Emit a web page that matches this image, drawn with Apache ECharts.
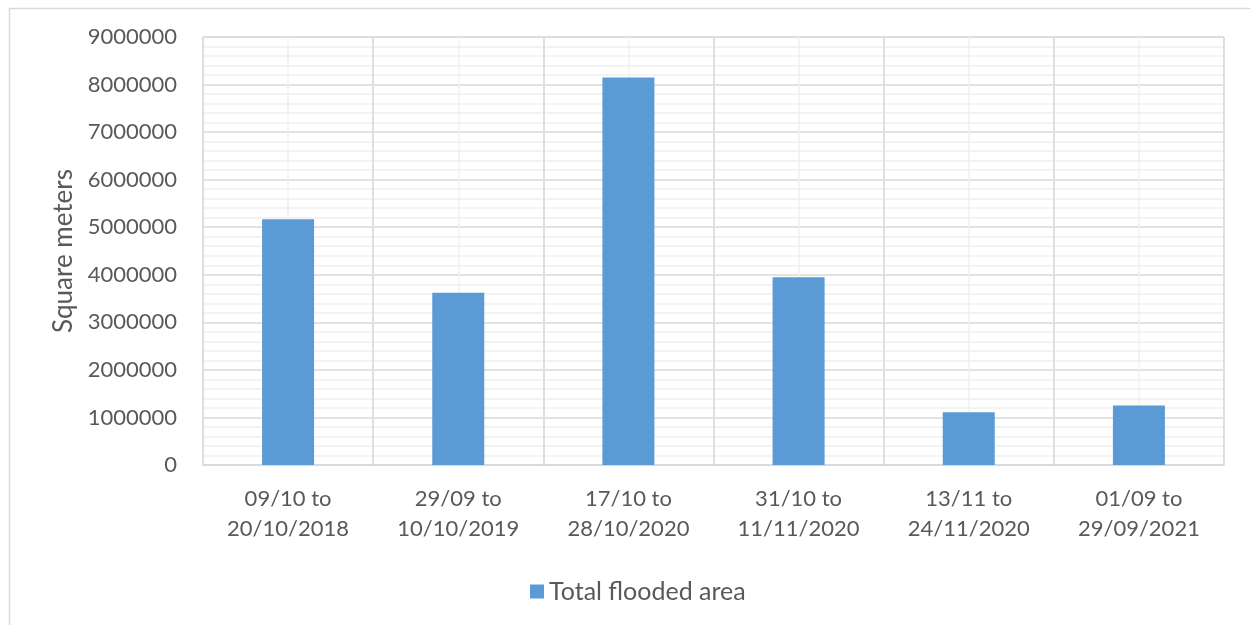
<!DOCTYPE html>
<html>
<head>
<meta charset="utf-8">
<script src="https://cdn.jsdelivr.net/npm/echarts@6/dist/echarts.min.js"></script>
<style>
  html, body { margin: 0; padding: 0; background: #fff; }
  #chart { width: 1250px; height: 625px; }
</style>
</head>
<body>
<div id="chart"></div>
<script>
// periods (x categories) and total flooded area in m2
const periods = [
  "09/10 to\n20/10/2018",
  "29/09 to\n10/10/2019",
  "17/10 to\n28/10/2020",
  "31/10 to\n11/11/2020",
  "13/11 to\n24/11/2020",
  "01/09 to\n29/09/2021",
];
const floodedArea = [5170000, 3620000, 8150000, 3950000, 1110000, 1250000];
const yTicks = { min: 0, max: 9000000, step: 1000000 };

const textColor = "#595959";
const majorGrid = "#d9d9d9";
const minorGrid = "#f0f0f0";
const font = "Lato, 'Open Sans', sans-serif";

const chart = echarts.init(document.getElementById("chart"), null, { renderer: "canvas" });
chart.setOption({
  animation: false,
  textStyle: { fontFamily: font, color: textColor },
  graphic: [
    {
      type: "rect",
      left: 7, top: 6,
      shape: { width: 1270, height: 650 },
      style: { fill: "none", stroke: "#d9d9d9", lineWidth: 1.5 },
      silent: true,
    },
  ],
  grid: {
    left: 203, right: 26, top: 37, bottom: 160,
    show: true, borderColor: majorGrid, borderWidth: 1,
  },
  legend: {
    top: 574,
    left: 525,
    itemWidth: 14, itemHeight: 14, itemGap: 6,
    icon: "rect",
    textStyle: { fontSize: 25, color: textColor, fontFamily: font },
  },
  xAxis: [
    {
      type: "category",
      data: periods,
      z: 1,
      axisLine: { lineStyle: { color: majorGrid, width: 1.5 } },
      axisTick: { show: false },
      axisLabel: { color: textColor, fontSize: 22, lineHeight: 30, margin: 19, interval: 0 },
      splitLine: { show: true, lineStyle: { color: majorGrid, width: 1.5 } },
    },
    {
      // only used to draw the light vertical lines through category centres
      type: "value",
      min: 0, max: 12, interval: 1,
      position: "top",
      z: 0,
      axisLine: { show: false },
      axisTick: { show: false },
      axisLabel: { show: false },
      splitLine: { show: true, lineStyle: { color: minorGrid, width: 1.5 } },
    },
  ],
  yAxis: {
    type: "value",
    min: yTicks.min, max: yTicks.max, interval: yTicks.step,
    name: "Square meters",
    nameLocation: "middle",
    nameGap: 122,
    nameTextStyle: { fontSize: 26, color: textColor },
    axisLine: { show: false },
    axisTick: { show: false },
    axisLabel: { color: textColor, fontSize: 22, margin: 26, formatter: (v) => String(v) },
    splitLine: { lineStyle: { color: majorGrid, width: 1.5 } },
    minorTick: { show: false, splitNumber: 5 },
    minorSplitLine: { show: true, lineStyle: { color: minorGrid, width: 1.5 } },
  },
  series: [
    {
      name: "Total flooded area",
      type: "bar",
      data: floodedArea,
      barWidth: 52,
      itemStyle: { color: "#5b9bd5" },
      z: 3,
    },
  ],
});
</script>
</body>
</html>
